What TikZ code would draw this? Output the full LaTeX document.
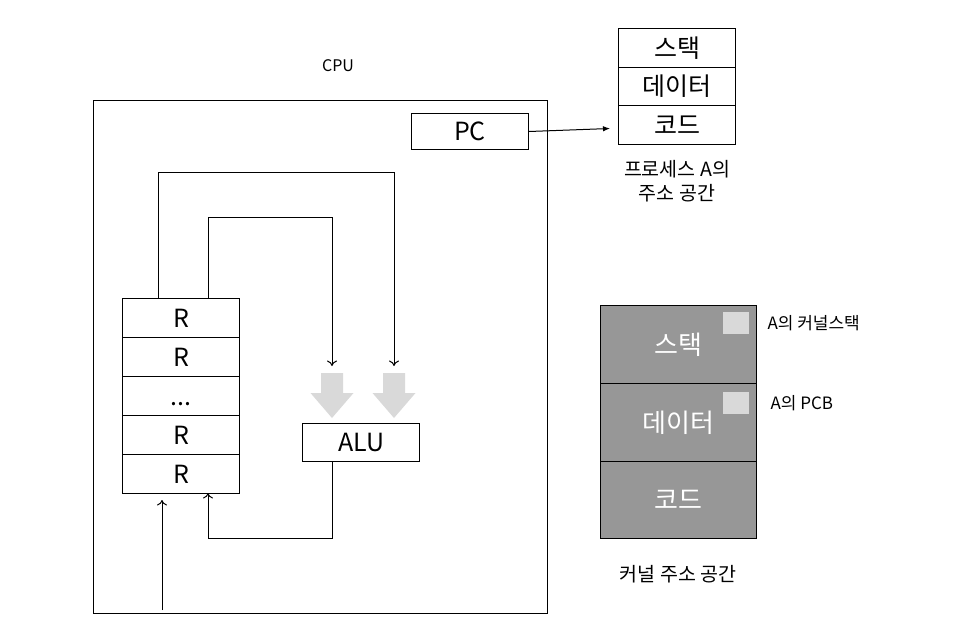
\documentclass[tikz,border=0pt]{standalone}
\usepackage{fontspec}
\setmainfont{Noto Sans CJK KR}
\usetikzlibrary{arrows.meta}
\definecolor{kgray}{HTML}{979797}
\definecolor{lgray}{HTML}{D9D9D9}
\begin{document}
\begin{tikzpicture}[x=1pt,y=-1pt,
  line width=1pt,
  cell/.style={draw, fill=white, minimum width=117pt, minimum height=39pt, inner sep=0pt, font=\fontsize{25}{25}\selectfont, anchor=north west},
  pcell/.style={draw, fill=white, minimum width=117pt, minimum height=38.5pt, inner sep=0pt, font=\fontsize{25}{25}\selectfont, anchor=north west},
  kcell/.style={draw, fill=kgray, text=white, minimum width=156pt, minimum height=78pt, inner sep=0pt, font=\fontsize{26}{26}\selectfont, anchor=north west},
  squarebox/.style={fill=lgray, minimum width=26pt, minimum height=22pt, inner sep=0pt, anchor=north west},
  lbl/.style={font=\fontsize{17}{17}\selectfont, inner sep=0pt},
  captxt/.style={font=\fontsize{19.5}{24}\selectfont, inner sep=0pt, align=center},
  wire/.style={line width=1pt},
  arr/.style={wire, -{To[length=5.5pt,width=10pt]}}
]
\useasboundingbox (0,0) rectangle (960,638);
% CPU
\node[draw, minimum width=454pt, minimum height=513pt, anchor=north west, inner sep=0pt] (cpu) at (93,100) {};
\node[font=\fontsize{16}{16}\selectfont] (cpulbl) at (338,66) {CPU};
\node[cell, minimum height=36pt] (pc) at (411,113) {PC};
% registers
\node[cell] (r1) at (122,298) {R};
\node[cell] (r2) at (122,337) {R};
\node[cell] (r3) at (122,376) {\raisebox{-9pt}[0pt][0pt]{...}};
\node[cell] (r4) at (122,415) {R};
\node[cell] (r5) at (122,454) {R};
\node[cell, minimum height=38pt] (alu) at (302,423) {ALU};
% wires
\coordinate (a1) at (332,366);
\coordinate (a2) at (394,366);
\draw[arr] (r1.north west) ++(36,0) |- (394,172) -- (a2);
\draw[arr] (r1.north west) ++(86,0) |- (332,217) -- (a1);
\draw[arr] (alu.south west) ++(30,0) |- (208,538) -- (208,493);
\coordinate (inpt) at (162,610);
\draw[arr] (inpt) -- (162,500);
% big gray arrows
\foreach \cx in {332,394}{
  \fill[lgray] (\cx-11,373) -- (\cx+11,373) -- (\cx+11,393) -- (\cx+21.5,393) -- (\cx,418) -- (\cx-21.5,393) -- (\cx-11,393) -- cycle;
}
% process address space
\node[pcell] (ps) at (618,28) {스택};
\node[pcell] (pd) at (618,66.5) {데이터};
\node[pcell] (pcode) at (618,105) {코드};
\node[captxt] (pcap) at (677,181) {프로세스 A의\\주소 공간};
\draw[wire, -{Latex[length=7pt,width=5.5pt]}] (pc.east) -- (610,128.5);
% kernel
\node[kcell] (ks) at (600,305) {스택};
\node[kcell] (kd) at (600,383) {데이터};
\node[kcell, minimum height=77pt] (kc) at (600,461) {코드};
\node[squarebox] (m1) at (722,311) {};
\node[squarebox] (m2) at (722,391) {};
\node[lbl, anchor=west] (l1) at (767,323) {A의 커널스택};
\node[lbl, anchor=west] (l2) at (770,403) {A의 PCB};
\node[captxt] (kcap) at (678,574) {커널 주소 공간};
\end{tikzpicture}
\end{document}
